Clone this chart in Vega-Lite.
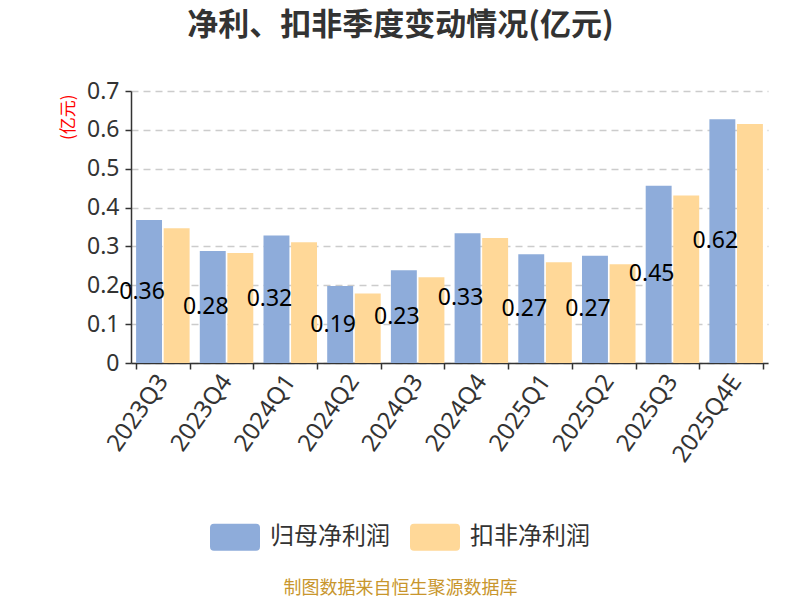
{
  "$schema": "https://vega.github.io/schema/vega-lite/v6.json",
  "width": 637,
  "height": 272,
  "autosize": {"type": "none"},
  "padding": {"left": 131, "top": 91, "right": 32, "bottom": 237},
  "background": "white",
  "config": {"font": "Noto Sans CJK SC", "view": {"stroke": null}},
  "title": {
    "text": "净利、扣非季度变动情况(亿元)",
    "fontSize": 31,
    "fontWeight": "bold",
    "color": "#333333",
    "anchor": "middle",
    "frame": "group",
    "dx": -49,
    "offset": 38
  },
  "datasets": {
    "profit": [
      {"quarter": "2023Q3", "series": "归母净利润", "value": 0.368, "label": "0.36"},
      {"quarter": "2023Q3", "series": "扣非净利润", "value": 0.347},
      {"quarter": "2023Q4", "series": "归母净利润", "value": 0.288, "label": "0.28"},
      {"quarter": "2023Q4", "series": "扣非净利润", "value": 0.283},
      {"quarter": "2024Q1", "series": "归母净利润", "value": 0.328, "label": "0.32"},
      {"quarter": "2024Q1", "series": "扣非净利润", "value": 0.311},
      {"quarter": "2024Q2", "series": "归母净利润", "value": 0.198, "label": "0.19"},
      {"quarter": "2024Q2", "series": "扣非净利润", "value": 0.179},
      {"quarter": "2024Q3", "series": "归母净利润", "value": 0.239, "label": "0.23"},
      {"quarter": "2024Q3", "series": "扣非净利润", "value": 0.221},
      {"quarter": "2024Q4", "series": "归母净利润", "value": 0.334, "label": "0.33"},
      {"quarter": "2024Q4", "series": "扣非净利润", "value": 0.322},
      {"quarter": "2025Q1", "series": "归母净利润", "value": 0.280, "label": "0.27"},
      {"quarter": "2025Q1", "series": "扣非净利润", "value": 0.259},
      {"quarter": "2025Q2", "series": "归母净利润", "value": 0.276, "label": "0.27"},
      {"quarter": "2025Q2", "series": "扣非净利润", "value": 0.254},
      {"quarter": "2025Q3", "series": "归母净利润", "value": 0.456, "label": "0.45"},
      {"quarter": "2025Q3", "series": "扣非净利润", "value": 0.431},
      {"quarter": "2025Q4E", "series": "归母净利润", "value": 0.627, "label": "0.62"},
      {"quarter": "2025Q4E", "series": "扣非净利润", "value": 0.615}
    ]
  },
  "data": {"name": "profit"},
  "layer": [
    {
      "mark": {"type": "bar"},
      "encoding": {
        "x": {
          "field": "quarter",
          "type": "nominal",
          "sort": null,
          "scale": {"paddingInner": 0.16, "paddingOuter": 0.08},
          "axis": {
            "title": "制图数据来自恒生聚源数据库",
            "titleColor": "#c8962d",
            "titleFontSize": 18,
            "titleFontWeight": "normal",
            "titleX": 269,
            "titleY": 225,
            "titleBaseline": "middle",
            "labelAngle": -55,
            "labelFontSize": 24,
            "labelColor": "#333333",
            "labelFont": "Noto Sans",
            "labelPadding": 8,
            "domainColor": "#333333",
            "domainWidth": 1.5,
            "tickColor": "#333333",
            "tickWidth": 1.5,
            "tickSize": 6,
            "tickBand": "extent",
            "grid": false
          }
        },
        "xOffset": {
          "field": "series",
          "type": "nominal",
          "scale": {"domain": ["归母净利润", "扣非净利润"], "paddingInner": 0.06}
        },
        "y": {
          "field": "value",
          "type": "quantitative",
          "scale": {"domain": [0, 0.7]},
          "axis": {
            "title": "(亿元)",
            "titleColor": "#ff0000",
            "titleFontSize": 17,
            "titleFontWeight": "normal",
            "titleX": -63,
            "titleY": 3,
            "titleAlign": "right",
            "titleBaseline": "middle",
            "values": [0, 0.1, 0.2, 0.3, 0.4, 0.5, 0.6, 0.7],
            "labelExpr": "datum.value == 0 ? '0' : format(datum.value, '.1f')",
            "labelFontSize": 23,
            "labelColor": "#333333",
            "labelFont": "Noto Sans",
            "labelPadding": 6,
            "domainColor": "#333333",
            "domainWidth": 1.5,
            "tickColor": "#333333",
            "tickWidth": 1.5,
            "tickSize": 6,
            "gridColor": "#cccccc",
            "gridDash": [7, 5],
            "gridWidth": 1.5
          }
        },
        "color": {
          "field": "series",
          "type": "nominal",
          "scale": {"domain": ["归母净利润", "扣非净利润"], "range": ["#8eacda", "#ffd898"]},
          "legend": {
            "orient": "none",
            "legendX": 79,
            "legendY": 421,
            "direction": "horizontal",
            "title": null,
            "symbolType": "M-0.84,-0.54 L0.84,-0.54 Q1,-0.54 1,-0.38 L1,0.38 Q1,0.54 0.84,0.54 L-0.84,0.54 Q-1,0.54 -1,0.38 L-1,-0.38 Q-1,-0.54 -0.84,-0.54 Z",
            "symbolSize": 2500,
            "symbolStrokeWidth": 0,
            "symbolOpacity": 1,
            "labelFontSize": 24,
            "labelColor": "#333333",
            "labelOffset": 10,
            "columnPadding": 20
          }
        }
      }
    },
    {
      "transform": [{"filter": "datum.series == '归母净利润'"}],
      "mark": {"type": "text", "fontSize": 23, "color": "#000000", "dx": -7, "baseline": "middle", "font": "Noto Sans"},
      "encoding": {
        "x": {"field": "quarter", "type": "nominal", "sort": null},
        "xOffset": {"field": "series", "type": "nominal"},
        "y": {"field": "value", "type": "quantitative", "scale": {"domain": [0, 1.4]}, "axis": null},
        "text": {"field": "label"}
      }
    }
  ],
  "resolve": {"scale": {"y": "independent"}}
}
